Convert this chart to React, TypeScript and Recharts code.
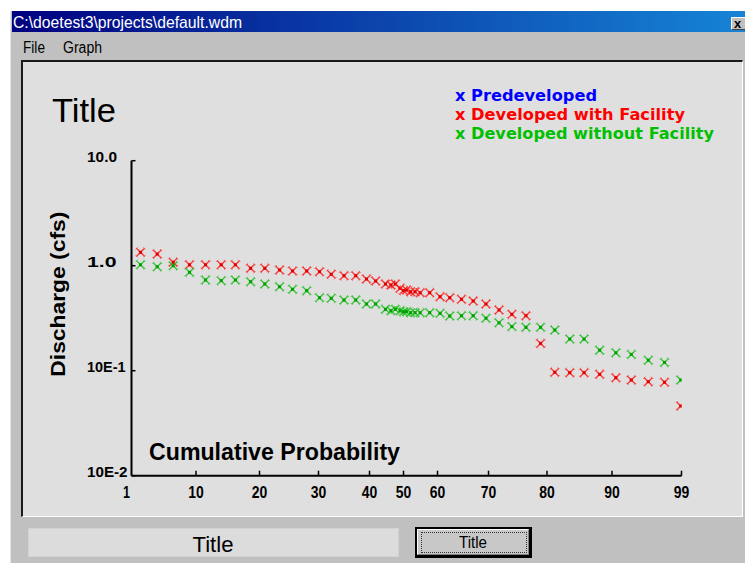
import React from 'react';
import { ScatterChart, Scatter, XAxis, YAxis } from 'recharts';

// Probability axis: tick values, labels and the relative spacing of the (non-linear) probability scale
const PROB_TICKS = [1, 10, 20, 30, 40, 50, 60, 70, 80, 90, 99];
const PROB_TICK_LABELS = ['1', '10', '20', '30', '40', '50', '60', '70', '80', '90', '99'];
const PROB_SCALE_UNITS = [0, 64.5, 128, 187, 238, 272, 306, 357, 415.5, 480.5, 550];

// Discharge axis (log)
const Q_TICKS = [0.01, 0.1, 1, 10];
const Q_TICK_LABELS = ['10E-2', '10E-1', '1.0', '10.0'];
const Q_TICK_LABEL_WIDTHS = [40.5, 38.5, 29.5, 30];

// Cumulative probability (%) of each plotted point
const PROBABILITY = [
  2.26, 4.59, 6.82, 9.09, 11.5, 13.97, 16.2, 18.6, 20.9, 23.4, 25.6, 28.0, 30.2, 32.5, 35.0, 37.3,
  39.4, 41.8, 44.7, 46.3, 47.6, 49.0, 50.0, 50.9, 52.1, 53.4, 54.9, 57.7, 60.5, 62.4, 64.7, 67.0,
  69.5, 71.8, 74.0, 76.4, 78.9, 81.2, 83.5, 85.7, 88.1, 90.5, 92.5, 94.7, 96.8, 98.9,
];

// Discharge (cfs)
const DEV_WITH_FACILITY = [
  1.34, 1.29, 1.08, 1.02, 1.02, 1.02, 1.02, 0.945, 0.945, 0.91, 0.89, 0.89, 0.877, 0.828, 0.803, 0.803,
  0.747, 0.715, 0.669, 0.655, 0.669, 0.609, 0.58, 0.587, 0.565, 0.565, 0.553, 0.553, 0.507, 0.496, 0.479, 0.461,
  0.432, 0.379, 0.344, 0.334, 0.182, 0.0966, 0.0958, 0.0958, 0.0924, 0.0858, 0.0815, 0.0786, 0.0776, 0.0461,
];
const DEV_WITHOUT_FACILITY = [
  1.02, 0.978, 1.0, 0.865, 0.731, 0.72, 0.731, 0.704, 0.669, 0.631, 0.596, 0.578, 0.496, 0.489, 0.471, 0.471,
  0.432, 0.432, 0.384, 0.373, 0.384, 0.373, 0.365, 0.365, 0.357, 0.357, 0.357, 0.357, 0.352, 0.332, 0.334, 0.334,
  0.316, 0.286, 0.263, 0.259, 0.259, 0.244, 0.2, 0.2, 0.157, 0.148, 0.143, 0.126, 0.12, 0.0815,
];

const LEGEND_NAMES = ['Predeveloped', 'Developed with Facility', 'Developed without Facility'];
const LEGEND_COLORS = ['#0000ff', '#ff0000', '#00c000'];
const LEGEND_WIDTHS = [142, 230, 259];

function probToAxis(p: number): number {
  for (let i = 0; i < PROB_TICKS.length - 1; i++) {
    const a = PROB_TICKS[i];
    const b = PROB_TICKS[i + 1];
    if (p <= b || i === PROB_TICKS.length - 2) {
      const f = (p - a) / (b - a);
      return PROB_SCALE_UNITS[i] + f * (PROB_SCALE_UNITS[i + 1] - PROB_SCALE_UNITS[i]);
    }
  }
  return 0;
}

const withData = PROBABILITY.map((p, i) => ({ x: probToAxis(p), y: DEV_WITH_FACILITY[i] }));
const withoutData = PROBABILITY.map((p, i) => ({ x: probToAxis(p), y: DEV_WITHOUT_FACILITY[i] }));

const makeMark = (color: string, core: string) => (props: any) => {
  const { cx, cy } = props;
  if (cx == null || cy == null) return null;
  const r = 4;
  return (
    <g>
      <line x1={cx - r} y1={cy - r} x2={cx + r} y2={cy + r} stroke={color} strokeWidth={1.4} opacity={0.85} />
      <line x1={cx - r} y1={cy + r} x2={cx + r} y2={cy - r} stroke={color} strokeWidth={1.4} opacity={0.85} />
      <line x1={cx - r - 1} y1={cy - r + 1} x2={cx - r + 1} y2={cy - r - 1} stroke={color} strokeWidth={1} opacity={0.6} />
      <line x1={cx + r - 1} y1={cy + r + 1} x2={cx + r + 1} y2={cy + r - 1} stroke={color} strokeWidth={1} opacity={0.6} />
      <line x1={cx - r - 1} y1={cy + r - 1} x2={cx - r + 1} y2={cy + r + 1} stroke={color} strokeWidth={1} opacity={0.6} />
      <line x1={cx + r - 1} y1={cy - r - 1} x2={cx + r + 1} y2={cy - r + 1} stroke={color} strokeWidth={1} opacity={0.6} />
      <rect x={cx - 1.5} y={cy - 1.5} width={3} height={3} fill={core} />
    </g>
  );
};

const XTick = (props: any) => {
  const { x, y, payload } = props;
  const idx = PROB_SCALE_UNITS.indexOf(payload.value);
  const label = idx >= 0 ? PROB_TICK_LABELS[idx] : '';
  return (
    <g>
      {idx > 0 && <line x1={x} y1={y} x2={x} y2={y - 5} stroke="#000" strokeWidth={1.5} />}
      <text
        x={idx === 0 ? x - 5 : x}
        y={y + 22}
        textAnchor="middle"
        fontFamily="'Liberation Sans', Arial, sans-serif"
        fontWeight="bold"
        fontSize={16}
        fill="#000"
        textLength={label.length > 1 ? 15.5 : 7}
        lengthAdjust="spacingAndGlyphs"
      >
        {label}
      </text>
    </g>
  );
};

const YTick = (props: any) => {
  const { x, y, payload } = props;
  const idx = Q_TICKS.indexOf(payload.value);
  const label = idx >= 0 ? Q_TICK_LABELS[idx] : '';
  return (
    <g>
      <line x1={x} y1={y} x2={x + 4} y2={y} stroke="#000" strokeWidth={1.5} />
      <text
        x={x - 44.5}
        y={y + 1}
        textAnchor="start"
        fontFamily="'Liberation Sans', Arial, sans-serif"
        fontWeight="bold"
        fontSize={14}
        fill="#000"
        textLength={idx >= 0 ? Q_TICK_LABEL_WIDTHS[idx] : undefined}
        lengthAdjust="spacingAndGlyphs"
      >
        {label}
      </text>
    </g>
  );
};

export default function App() {
  const sans = "'Liberation Sans', Arial, sans-serif";
  return (
    <div style={{ position: 'absolute', left: 0, top: 0, width: 745, height: 563, background: '#fff', overflow: 'hidden' }}>
      {/* window frame */}
      <div style={{ position: 'absolute', left: 10, top: 11, width: 735, height: 552, background: '#c0c0c0', borderLeft: '1px solid #e4e4e4', boxSizing: 'border-box' }} />
      {/* title bar */}
      <div style={{ position: 'absolute', left: 12, top: 11, width: 733, height: 21, background: 'linear-gradient(to right, #000080 0%, #0a3ea8 45%, #1684d6 100%)' }} />
      {/* close button */}
      <div style={{ position: 'absolute', left: 731, top: 17, width: 16, height: 13, background: '#c0c0c0', borderTop: '1px solid #fff', borderLeft: '1px solid #fff', borderBottom: '1px solid #404040', boxSizing: 'border-box' }} />
      {/* chart panel */}
      <div style={{ position: 'absolute', left: 21, top: 60, width: 722, height: 457, background: '#dfdfdf', borderTop: '2px solid #1a1a1a', borderLeft: '2px solid #1a1a1a', borderRight: '1px solid #fff', borderBottom: '1px solid #fff', boxSizing: 'border-box' }} />
      {/* bottom text box */}
      <div style={{ position: 'absolute', left: 28, top: 528, width: 371, height: 29, background: '#dcdcdc', border: '1px solid #d2d2d2', boxSizing: 'border-box' }} />
      {/* bottom button */}
      <div style={{ position: 'absolute', left: 415, top: 527, width: 117, height: 31, background: '#000', boxSizing: 'border-box' }} />
      <div style={{ position: 'absolute', left: 417, top: 529, width: 112, height: 26, background: '#c8c8c8', borderTop: '1px solid #fff', borderLeft: '1px solid #fff', borderRight: '1px solid #808080', borderBottom: '1px solid #808080', boxSizing: 'border-box' }} />
      <div style={{ position: 'absolute', left: 421, top: 532, width: 106, height: 21, border: '1px dotted #333', boxSizing: 'border-box' }} />

      <div style={{ position: 'absolute', left: 0, top: 0 }}>
        <ScatterChart width={745} height={563} margin={{ top: 160.7, right: 63.5, bottom: 57.3, left: 86.5 }}>
          <XAxis
            type="number"
            dataKey="x"
            domain={[0, 550]}
            ticks={PROB_SCALE_UNITS}
            interval={0}
            height={30}
            tickSize={0}
            tickMargin={0}
            tickLine={false}
            axisLine={{ stroke: '#000', strokeWidth: 2 }}
            tick={<XTick />}
            allowDataOverflow
          />
          <YAxis
            type="number"
            dataKey="y"
            scale="log"
            domain={[0.01, 10]}
            ticks={Q_TICKS}
            interval={0}
            width={45}
            tickSize={0}
            tickMargin={0}
            tickLine={false}
            axisLine={{ stroke: '#000', strokeWidth: 2 }}
            tick={<YTick />}
            allowDataOverflow
          />
          <Scatter name={LEGEND_NAMES[1]} data={withData} fill="#ff2020" shape={makeMark('#ff2020', '#e00000')} isAnimationActive={false} />
          <Scatter name={LEGEND_NAMES[2]} data={withoutData} fill="#20c020" shape={makeMark('#20c020', '#00a000')} isAnimationActive={false} />
        </ScatterChart>
      </div>

      <svg width={745} height={563} style={{ position: 'absolute', left: 0, top: 0, pointerEvents: 'none' }}>
        <text x={13} y={27.5} fill="#fff" fontFamily={sans} fontSize={17} textLength={229} lengthAdjust="spacingAndGlyphs">
          {'C:\\doetest3\\projects\\default.wdm'}
        </text>
        <text x={734} y={28} fill="#000" fontFamily={sans} fontWeight="bold" fontSize={13}>x</text>
        <text x={23} y={53} fill="#000" fontFamily={sans} fontSize={16} textLength={22} lengthAdjust="spacingAndGlyphs">File</text>
        <text x={63} y={53} fill="#000" fontFamily={sans} fontSize={16} textLength={39} lengthAdjust="spacingAndGlyphs">Graph</text>

        <text x={52} y={122} fill="#000" fontFamily={sans} fontSize={33} textLength={64} lengthAdjust="spacingAndGlyphs">Title</text>

        {LEGEND_NAMES.map((n, i) => (
          <text
            key={n}
            x={455}
            y={100.7 + i * 19.3}
            fill={LEGEND_COLORS[i]}
            fontFamily="'DejaVu Sans', sans-serif"
            fontWeight="bold"
            fontSize={15}
            textLength={LEGEND_WIDTHS[i]}
            lengthAdjust="spacingAndGlyphs"
          >
            {'x ' + n}
          </text>
        ))}

        <text
          transform="translate(65,294.2) rotate(-90)"
          textAnchor="middle"
          fill="#000"
          fontFamily={sans}
          fontWeight="bold"
          fontSize={21}
          textLength={165}
          lengthAdjust="spacingAndGlyphs"
        >
          Discharge (cfs)
        </text>
        <text x={149} y={460} fill="#000" fontFamily={sans} fontWeight="bold" fontSize={23} textLength={251} lengthAdjust="spacingAndGlyphs">
          Cumulative Probability
        </text>

        <text x={213} y={551.5} textAnchor="middle" fill="#000" fontFamily={sans} fontSize={22} textLength={41} lengthAdjust="spacingAndGlyphs">Title</text>
        <text x={473} y={547.5} textAnchor="middle" fill="#000" fontFamily={sans} fontSize={16.5} textLength={28} lengthAdjust="spacingAndGlyphs">Title</text>
      </svg>
    </div>
  );
}
